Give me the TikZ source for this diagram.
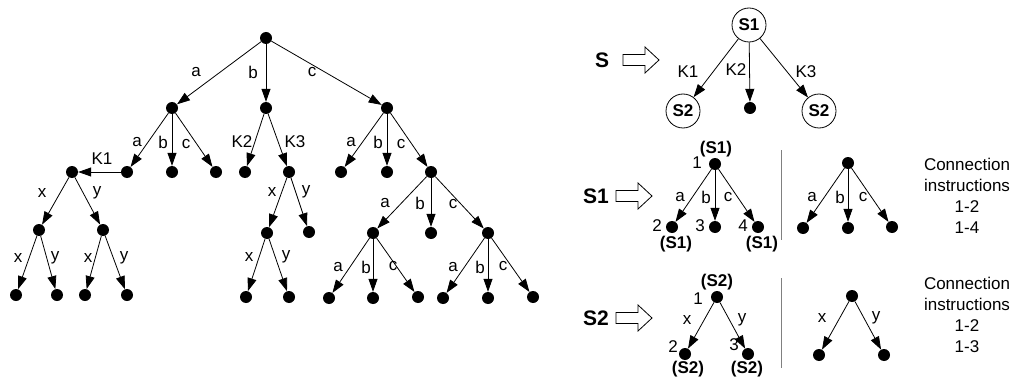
\documentclass[tikz,border=0pt]{standalone}
\usepackage{fontspec}
\setmainfont{Liberation Sans}
\usetikzlibrary{arrows.meta}
\begin{document}
\begin{tikzpicture}[x=1pt,y=-1pt,
 dot/.style={circle,fill=black,inner sep=0pt,minimum size=12pt},
 snode/.style={circle,draw,line width=0.8pt,inner sep=0pt,minimum size=34pt,font=\fontsize{17}{20}\selectfont\bfseries},
 arr/.style={-{Triangle[length=13pt,width=9pt]},line width=0.8pt},
 lbl/.style={inner sep=0pt,font=\fontsize{17}{20}\selectfont},
 blbl/.style={inner sep=0pt,font=\fontsize{17}{20}\selectfont\bfseries},
 big/.style={inner sep=0pt,font=\fontsize{21}{24}\selectfont\bfseries},
 hollow/.style={draw,line width=0.8pt,fill=white},
 sepline/.style={draw=gray,line width=1pt},
 txt/.style={align=center,inner sep=0pt,font=\fontsize{17}{21}\selectfont}
]
\useasboundingbox (0,0) rectangle (1016,377);

% ---------- left tree ----------
\node[dot] (r) at (266,38) {};
\node[dot] (A) at (172,108) {};
\node[dot] (B) at (266,108) {};
\node[dot] (C) at (387,108) {};
\node[dot] (Aa) at (127,172) {};
\node[dot] (Ab) at (172,172) {};
\node[dot] (Ac) at (216,172) {};
\node[dot] (K) at (72,172) {};
\node[dot] (Kx) at (39,230) {};
\node[dot] (Ky) at (103,230) {};
\node[dot] (Kxx) at (16,295) {};
\node[dot] (Kxy) at (57,295) {};
\node[dot] (Kyx) at (85,295) {};
\node[dot] (Kyy) at (127,295) {};
\node[dot] (Bk) at (245,172) {};
\node[dot] (Bl) at (289,172) {};
\node[dot] (Bx) at (267,233) {};
\node[dot] (By) at (309,232) {};
\node[dot] (Bxx) at (246,297) {};
\node[dot] (Bxy) at (289,297) {};
\node[dot] (Ca) at (341,172) {};
\node[dot] (Cb) at (387,172) {};
\node[dot] (Cc) at (431,172) {};
\node[dot] (Cca) at (373,233) {};
\node[dot] (Ccb) at (431,233) {};
\node[dot] (Ccc) at (488,233) {};
\node[dot] (Caa) at (329,298) {};
\node[dot] (Cab) at (373,298) {};
\node[dot] (Cac) at (418,297) {};
\node[dot] (Cca2) at (443,298) {};
\node[dot] (Ccb2) at (488,298) {};
\node[dot] (Ccc2) at (533,297) {};

\draw[arr] (r) -- (A); \draw[arr] (r) -- (B); \draw[arr] (r) -- (C);
\draw[arr] (A) -- (Aa); \draw[arr] (A) -- (Ab); \draw[arr] (A) -- (Ac);
\draw[arr] (Aa) -- (K);
\draw[arr] (K) -- (Kx); \draw[arr] (K) -- (Ky);
\draw[arr] (Kx) -- (Kxx); \draw[arr] (Kx) -- (Kxy);
\draw[arr] (Ky) -- (Kyx); \draw[arr] (Ky) -- (Kyy);
\draw[arr] (B) -- (Bk); \draw[arr] (B) -- (Bl);
\draw[arr] (Bl) -- (Bx); \draw[arr] (Bl) -- (By);
\draw[arr] (Bx) -- (Bxx); \draw[arr] (Bx) -- (Bxy);
\draw[arr] (C) -- (Ca); \draw[arr] (C) -- (Cb); \draw[arr] (C) -- (Cc);
\draw[arr] (Cc) -- (Cca); \draw[arr] (Cc) -- (Ccb); \draw[arr] (Cc) -- (Ccc);
\draw[arr] (Cca) -- (Caa); \draw[arr] (Cca) -- (Cab); \draw[arr] (Cca) -- (Cac);
\draw[arr] (Ccc) -- (Cca2); \draw[arr] (Ccc) -- (Ccb2); \draw[arr] (Ccc) -- (Ccc2);

\node[lbl] (l1) at (196,72) {a};
\node[lbl] (l2) at (253,72) {b};
\node[lbl] (l3) at (312,72) {c};
\node[lbl] (l4) at (137,142) {a};
\node[lbl] (l5) at (163,142) {b};
\node[lbl] (l6) at (186,144) {c};
\node[lbl] (l7) at (102,159) {K1};
\node[lbl] (l8) at (42,193) {x};
\node[lbl] (l9) at (97,193) {y};
\node[lbl] (l10) at (18,258) {x};
\node[lbl] (l11) at (55,258) {y};
\node[lbl] (l12) at (88,258) {x};
\node[lbl] (l13) at (124,258) {y};
\node[lbl] (l14) at (242,142) {K2};
\node[lbl] (l15) at (295,142) {K3};
\node[lbl] (l16) at (272,192) {x};
\node[lbl] (l17) at (306,192) {y};
\node[lbl] (l18) at (249,257) {x};
\node[lbl] (l19) at (286,257) {y};
\node[lbl] (l20) at (351,142) {a};
\node[lbl] (l21) at (378,142) {b};
\node[lbl] (l22) at (401,144) {c};
\node[lbl] (l23) at (385,203) {a};
\node[lbl] (l24) at (420,203) {b};
\node[lbl] (l25) at (453,204) {c};
\node[lbl] (l26) at (338,267) {a};
\node[lbl] (l27) at (366,267) {b};
\node[lbl] (l28) at (393,266) {c};
\node[lbl] (l29) at (453,267) {a};
\node[lbl] (l30) at (480,267) {b};
\node[lbl] (l31) at (503,266) {c};

% ---------- right panel: top row ----------
\node[big] (S) at (602,60) {S};
\draw[hollow] (623,54.5) -- (645,54.5) -- (645,47) -- (659,60) -- (645,73) -- (645,65.5) -- (623,65.5) -- cycle;
\node[snode] (T1) at (749,25) {S1};
\node[snode] (T2) at (683,111) {S2};
\node[dot] (T3) at (750,108) {};
\node[snode] (T4) at (819,111) {S2};
\draw[arr] (T1) -- (T2); \draw[arr] (T1) -- (T3); \draw[arr] (T1) -- (T4);
\node[lbl] (tk1) at (688,72) {K1};
\node[lbl] (tk2) at (736,70) {K2};
\node[lbl] (tk3) at (806,72) {K3};

% ---------- S1 row ----------
\node[big] (S1) at (596,196) {S1};
\draw[hollow] (616,190.5) -- (638,190.5) -- (638,183) -- (652,196) -- (638,209) -- (638,201.5) -- (616,201.5) -- cycle;
\node[dot] (P) at (715,164) {};
\node[dot] (P2) at (672,227) {};
\node[dot] (P3) at (715,227) {};
\node[dot] (P4) at (758,227) {};
\draw[arr] (P) -- (P2); \draw[arr] (P) -- (P3); \draw[arr] (P) -- (P4);
\node[blbl] (pS) at (716,149) {(S1)};
\node[lbl] (p1) at (697,163) {1};
\node[lbl] (pa) at (680,197) {a};
\node[lbl] (pb) at (706,197) {b};
\node[lbl] (pc) at (728,197) {c};
\node[lbl] (p2) at (657,226) {2};
\node[lbl] (p3) at (700,226) {3};
\node[lbl] (p4) at (743,226) {4};
\node[blbl] (pS2) at (676,244) {(S1)};
\node[blbl] (pS4) at (762,244) {(S1)};
\draw[sepline] (781,150) -- (781,240);
\node[dot] (Q) at (848,163) {};
\node[dot] (Q2) at (803,228) {};
\node[dot] (Q3) at (848,228) {};
\node[dot] (Q4) at (892,227) {};
\draw[arr] (Q) -- (Q2); \draw[arr] (Q) -- (Q3); \draw[arr] (Q) -- (Q4);
\node[lbl] (qa) at (812,197) {a};
\node[lbl] (qb) at (840,197) {b};
\node[lbl] (qc) at (863,197) {c};
\node[txt] (ci1) at (967,196) {Connection\\instructions\\1-2\\1-4};

% ---------- S2 row ----------
\node[big] (S2) at (596,318) {S2};
\draw[hollow] (616,312.5) -- (638,312.5) -- (638,305) -- (652,318) -- (638,331) -- (638,323.5) -- (616,323.5) -- cycle;
\node[dot] (U) at (717,297) {};
\node[dot] (U2) at (685,354) {};
\node[dot] (U3) at (748,354) {};
\draw[arr] (U) -- (U2); \draw[arr] (U) -- (U3);
\node[blbl] (uS) at (717,282) {(S2)};
\node[lbl] (u1) at (698,299) {1};
\node[lbl] (ux) at (687,320) {x};
\node[lbl] (uy) at (742,320) {y};
\node[lbl] (u2) at (673,347) {2};
\node[lbl] (u3) at (734,345) {3};
\node[blbl] (uS2) at (688,369) {(S2)};
\node[blbl] (uS3) at (747,369) {(S2)};
\draw[sepline] (781,278) -- (781,368);
\node[dot] (W) at (852,296) {};
\node[dot] (W2) at (819,355) {};
\node[dot] (W3) at (884,355) {};
\draw[arr] (W) -- (W2); \draw[arr] (W) -- (W3);
\node[lbl] (wx) at (822,318) {x};
\node[lbl] (wy) at (876,318) {y};
\node[txt] (ci2) at (967,315) {Connection\\instructions\\1-2\\1-3};
\end{tikzpicture}
\end{document}
